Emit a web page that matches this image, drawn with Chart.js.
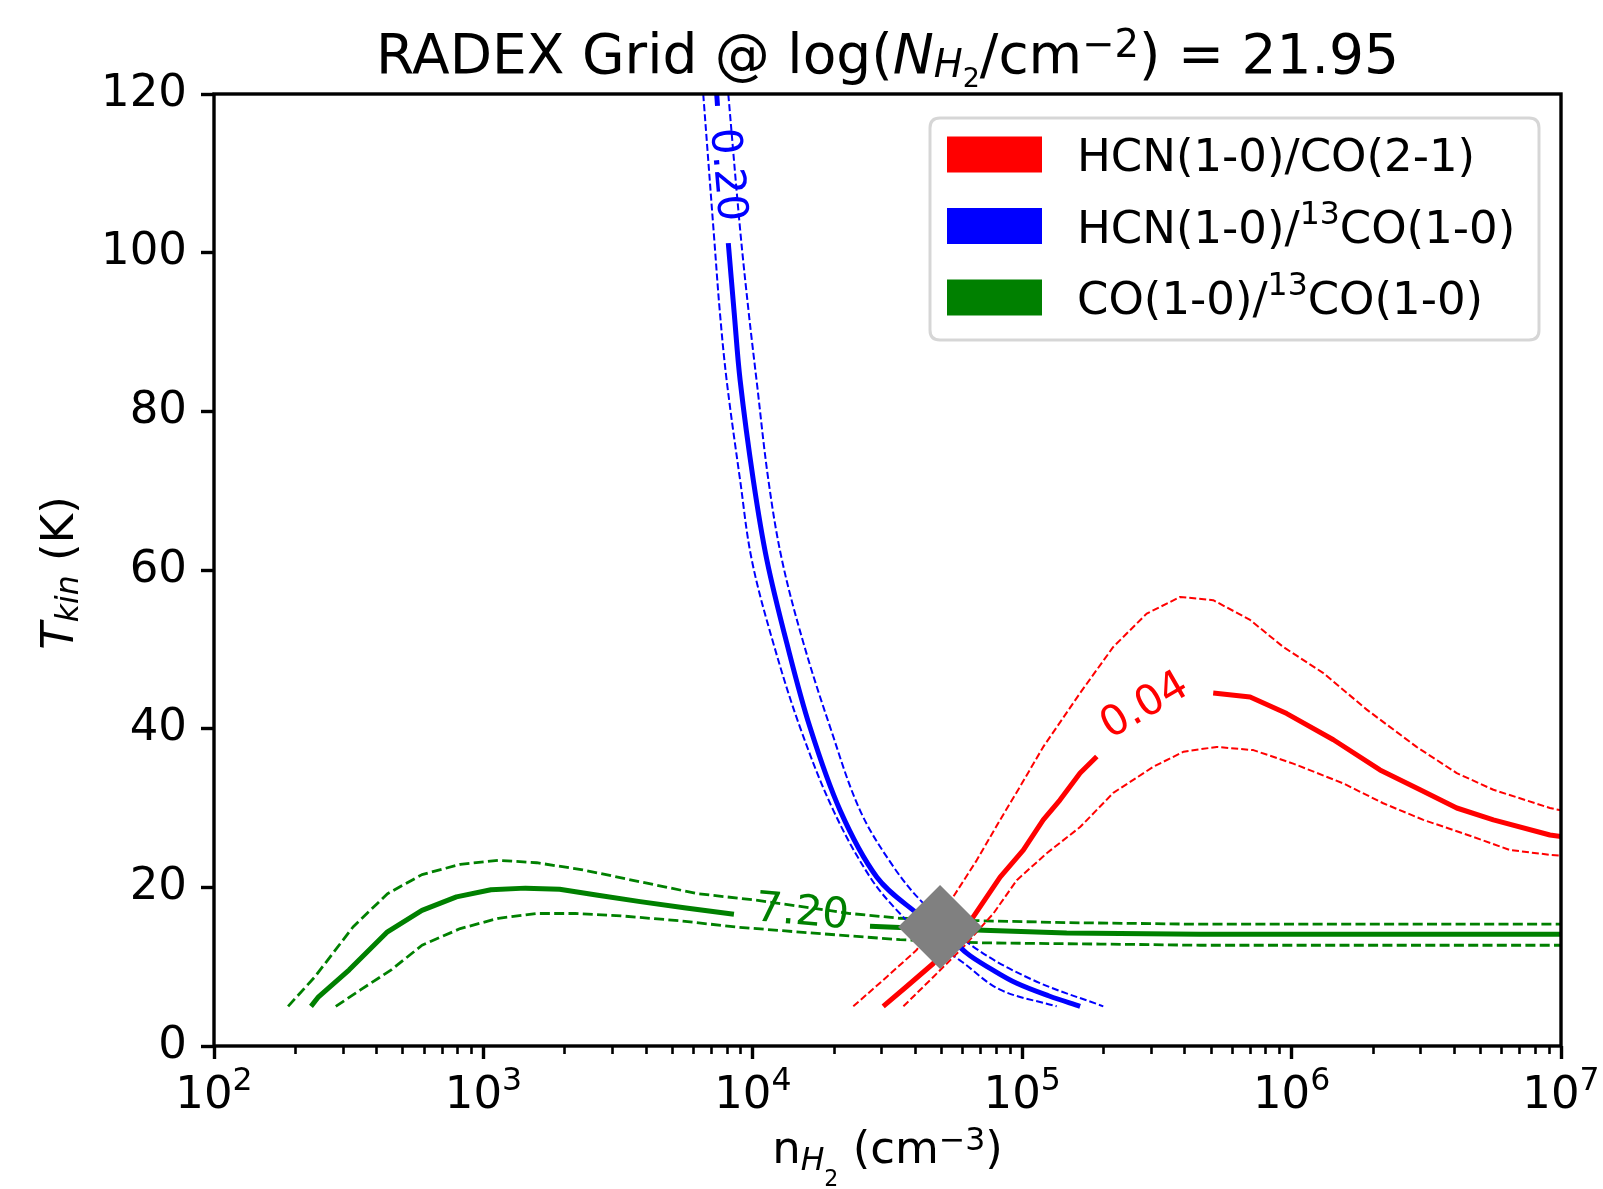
<!DOCTYPE html>
<html>
<head>
<meta charset="utf-8">
<title>RADEX Grid</title>
<script src="https://cdn.jsdelivr.net/npm/chart.js@4.4.1/dist/chart.umd.min.js"></script>
<style>
  html, body { margin: 0; padding: 0; background: #fff; }
  #graph { display: block; width: 1603px; height: 1189px; }
</style>
</head>
<body>
<canvas id="graph" width="1603" height="1189"></canvas>
<script>
// x = log10(n_H2 / cm^-3), y = T_kin (K)
// null = gap left for the contour label

// HCN(1-0)/CO(2-1) = 0.04 (solid) and its error band (dashed)
var hcnCoLogN = [4.484, 4.571, 4.670, 4.819, 4.918, 5.004, 5.078, 5.140, 5.215, 5.277, null,
                 5.709, 5.846, 5.982, 6.155, 6.328, 6.477, 6.613, 6.749, 6.959, 7.0];
var hcnCoT    = [5.0, 7.5, 10.4, 16.3, 21.3, 24.7, 28.5, 31.0, 34.4, 36.5, null,
                 44.5, 44.0, 41.9, 38.6, 34.8, 32.3, 30.0, 28.5, 26.6, 26.4];
var hcnCoHiLogN = [4.373, 4.497, 4.608, 4.744, 4.831, 4.918, 4.992, 5.078, 5.215, 5.338, 5.462,
                   5.586, 5.709, 5.846, 5.969, 6.118, 6.279, 6.464, 6.613, 6.749, 6.959, 7.0];
var hcnCoHiT    = [5.0, 8.7, 12.1, 18.8, 23.4, 28.5, 32.7, 37.7, 44.5, 50.3, 54.5,
                   56.6, 56.2, 53.7, 50.3, 47.0, 42.4, 37.7, 34.4, 32.3, 30.0, 29.7];
var hcnCoLoLogN = [4.559, 4.670, 4.782, 4.893, 4.980, 5.091, 5.215, 5.338, 5.487, 5.599,
                   5.722, 5.858, 6.006, 6.192, 6.340, 6.489, 6.637, 6.811, 6.959, 7.0];
var hcnCoLoT    = [5.0, 8.7, 12.5, 16.7, 20.9, 24.3, 27.6, 31.9, 35.2, 37.1,
                   37.7, 37.3, 35.6, 33.1, 30.6, 28.5, 26.8, 24.7, 24.1, 24.0];

// HCN(1-0)/13CO(1-0) = 0.20
var hcn13LogN = [3.866, 3.869, null, 3.909, 3.931, 3.953, 4.002, 4.052, 4.126, 4.212,
                 4.324, 4.460, 4.596, 4.695, 4.794, 4.890, 4.980, 5.100, 5.215];
var hcn13T    = [120, 118.5, null, 101.2, 92.4, 83.9, 71.3, 61.3, 50.8, 40.2,
                 29.7, 21.3, 17.1, 15.0, 11.7, 9.6, 7.9, 6.3, 5.0];
var hcn13HiLogN = [3.909, 3.953, 3.985, 4.014, 4.058, 4.108, 4.188, 4.287, 4.398, 4.522,
                   4.633, 4.819, 5.041, 5.301];
var hcn13HiT    = [120, 102.9, 92.4, 83.9, 71.3, 61.3, 50.8, 40.2, 29.7, 22.6,
                   18.0, 12.5, 8.3, 5.0];
var hcn13LoLogN = [3.816, 3.858, 3.878, 3.903, 3.953, 3.996, 4.076, 4.175, 4.299, 4.435,
                   4.546, 4.650, 4.769, 4.918, 5.128];
var hcn13LoT    = [120, 101.2, 92.4, 83.9, 71.3, 61.3, 50.8, 40.2, 29.7, 21.3,
                   16.7, 13.5, 10.8, 7.1, 5.0];

// CO(1-0)/13CO(1-0) = 7.20
var co13LogN = [2.360, 2.388, 2.502, 2.644, 2.772, 2.900, 3.028, 3.156, 3.283, 3.425, 3.582,
                3.752, 3.930, null, 4.435, 4.546, 4.695, 4.855, 5.165, 5.660, 6.300, 7.0];
var co13T    = [5.0, 6.2, 9.6, 14.4, 17.1, 18.8, 19.7, 19.9, 19.75, 19.0, 18.2,
                17.4, 16.6, null, 15.1, 14.95, 14.8, 14.6, 14.25, 14.1, 14.1, 14.1];
var co13HiLogN = [2.275, 2.374, 2.516, 2.644, 2.772, 2.914, 3.056, 3.198, 3.369, 3.582,
                  3.795, 4.008, 4.361, 4.546, 4.831, 5.165, 5.660, 7.0];
var co13HiT    = [5.0, 8.7, 15.0, 19.2, 21.6, 22.9, 23.4, 23.1, 22.2, 20.7,
                  19.2, 18.4, 16.7, 16.1, 15.8, 15.55, 15.35, 15.35];
var co13LoLogN = [2.452, 2.545, 2.658, 2.772, 2.914, 3.056, 3.198, 3.340, 3.511, 3.724,
                  3.937, 4.121, 4.546, 4.855, 5.289, 5.660, 7.0];
var co13LoT    = [5.0, 7.1, 9.6, 12.7, 14.8, 16.1, 16.7, 16.7, 16.4, 15.8,
                  15.0, 14.5, 13.4, 13.0, 12.85, 12.7, 12.7];

// best fit point
var bestLogN = [4.695];
var bestT = [15.0];

// contour labels
var levelText = ['0.04', '0.20', '7.20'];
var levelLogN = [5.456, 3.901, 4.183];
var levelT = [42.8, 109.8, 16.7];
var levelAngle = [-30, 85, 5];
var levelColor = ['#ff0000', '#0000ff', '#008000'];

// axes
var xMajor = [1e2, 1e3, 1e4, 1e5, 1e6, 1e7];
var xExp = ['2', '3', '4', '5', '6', '7'];
var yMin = 0, yMax = 120, yStep = 20;

// legend
var legendColor = ['#ff0000', '#0000ff', '#008000'];
var legendText = [
  [{t: 'HCN(1-0)/CO(2-1)'}],
  [{t: 'HCN(1-0)/'}, {t: '13', s: 0.7, dy: -0.42}, {t: 'CO(1-0)'}],
  [{t: 'CO(1-0)/'}, {t: '13', s: 0.7, dy: -0.42}, {t: 'CO(1-0)'}]
];

var FONT = '"DejaVu Sans"';
var FS = 45;

function toPoints(logs, temps) {
  var out = [];
  for (var i = 0; i < logs.length; i++) {
    if (logs[i] === null) out.push({x: null, y: null});
    else out.push({x: Math.pow(10, logs[i]), y: temps[i]});
  }
  return out;
}

function fontOf(size, italic) {
  return (italic ? 'italic ' : '') + size.toFixed(1) + 'px ' + FONT;
}

// text with sub/superscripts: parts = [{t, it, s, dy}]
function richWidth(ctx, parts, size) {
  var w = 0;
  for (var i = 0; i < parts.length; i++) {
    ctx.font = fontOf(size * (parts[i].s || 1), parts[i].it);
    w += ctx.measureText(parts[i].t).width;
  }
  return w;
}
function drawRich(ctx, parts, x, y, size, align) {
  var cx = align === 'center' ? x - richWidth(ctx, parts, size) / 2 : x;
  ctx.textAlign = 'left';
  ctx.textBaseline = 'alphabetic';
  for (var i = 0; i < parts.length; i++) {
    var p = parts[i];
    ctx.font = fontOf(size * (p.s || 1), p.it);
    ctx.fillText(p.t, cx, y + (p.dy || 0) * size);
    cx += ctx.measureText(p.t).width;
  }
}

function roundRect(ctx, x, y, w, h, r) {
  ctx.beginPath();
  ctx.moveTo(x + r, y);
  ctx.lineTo(x + w - r, y);
  ctx.quadraticCurveTo(x + w, y, x + w, y + r);
  ctx.lineTo(x + w, y + h - r);
  ctx.quadraticCurveTo(x + w, y + h, x + w - r, y + h);
  ctx.lineTo(x + r, y + h);
  ctx.quadraticCurveTo(x, y + h, x, y + h - r);
  ctx.lineTo(x, y + r);
  ctx.quadraticCurveTo(x, y, x + r, y);
  ctx.closePath();
}

// contour labels along the lines
var levelLabels = {
  id: 'levelLabels',
  afterDatasetsDraw: function(chart) {
    var ctx = chart.ctx;
    var xs = chart.scales.x, ys = chart.scales.y;
    ctx.save();
    ctx.font = '42px ' + FONT;
    ctx.textAlign = 'center';
    ctx.textBaseline = 'middle';
    for (var i = 0; i < levelText.length; i++) {
      ctx.save();
      ctx.translate(xs.getPixelForValue(Math.pow(10, levelLogN[i])), ys.getPixelForValue(levelT[i]));
      ctx.rotate(levelAngle[i] * Math.PI / 180);
      ctx.fillStyle = levelColor[i];
      ctx.fillText(levelText[i], 0, 0);
      ctx.restore();
    }
    ctx.restore();
  }
};

// frame, minor ticks, tick labels, titles, legend
var decorations = {
  id: 'decorations',
  afterDraw: function(chart) {
    var ctx = chart.ctx;
    var a = chart.chartArea;
    var xs = chart.scales.x;
    ctx.save();

    // minor ticks on the log axis
    ctx.strokeStyle = '#000';
    ctx.lineWidth = 2.6;
    for (var e = 2; e < 7; e++) {
      for (var k = 2; k <= 9; k++) {
        var px = Math.round(xs.getPixelForValue(k * Math.pow(10, e))) + 0.5;
        ctx.beginPath();
        ctx.moveTo(px, a.bottom);
        ctx.lineTo(px, a.bottom + 8);
        ctx.stroke();
      }
    }

    // frame
    ctx.lineWidth = 3.4;
    ctx.strokeRect(a.left, a.top, a.right - a.left, a.bottom - a.top);

    ctx.fillStyle = '#000';
    // x tick labels 10^n
    for (var i = 0; i < xMajor.length; i++) {
      drawRich(ctx, [{t: '10'}, {t: xExp[i], s: 0.7, dy: -0.41}],
        xs.getPixelForValue(xMajor[i]), a.bottom + 62, FS, 'center');
    }

    var cx = (a.left + a.right) / 2;
    // x axis title
    drawRich(ctx, [{t: 'n'}, {t: 'H', it: true, s: 0.7, dy: 0.16}, {t: '2', s: 0.49, dy: 0.5},
      {t: ' (cm'}, {t: '\u22123', s: 0.7, dy: -0.3}, {t: ')'}], cx, a.bottom + 117, FS, 'center');

    // y axis title
    ctx.save();
    ctx.translate(73, (a.top + a.bottom) / 2 + 3);
    ctx.rotate(-Math.PI / 2);
    drawRich(ctx, [{t: 'T', it: true}, {t: 'kin', it: true, s: 0.7, dy: 0.1}, {t: ' (K)'}], 0, 0, FS, 'center');
    ctx.restore();

    // title
    drawRich(ctx, [{t: 'RADEX Grid @ log('}, {t: 'N', it: true}, {t: 'H', it: true, s: 0.7, dy: 0.08},
      {t: '2', s: 0.49, dy: 0.26}, {t: '/cm'}, {t: '\u22122', s: 0.7, dy: -0.3}, {t: ') = 21.95'}],
      cx, a.top - 21, 55, 'center');

    // legend
    var bw = 609, bh = 222;
    var bx = a.right - 22 - bw, by = a.top + 24;
    roundRect(ctx, bx, by, bw, bh, 10);
    ctx.fillStyle = 'rgba(255,255,255,0.8)';
    ctx.fill();
    ctx.lineWidth = 3;
    ctx.strokeStyle = 'rgba(204,204,204,0.8)';
    ctx.stroke();
    for (var r = 0; r < legendText.length; r++) {
      ctx.fillStyle = legendColor[r];
      ctx.fillRect(bx + 17, by + 18.5 + 71.5 * r, 95, 36);
      ctx.fillStyle = '#000';
      drawRich(ctx, legendText[r], bx + 147, by + 53 + 71.5 * r, FS, 'left');
    }
    ctx.restore();
  }
};

function solid(data, color) {
  return {data: data, showLine: true, borderColor: color, backgroundColor: color,
    borderWidth: 5, pointRadius: 0, borderCapStyle: 'butt', borderJoinStyle: 'round', order: 1};
}
function dashed(data, color, w, dash) {
  return {data: data, showLine: true, borderColor: color, backgroundColor: color,
    borderWidth: w, borderDash: dash, pointRadius: 0, borderJoinStyle: 'round', order: 2};
}

document.addEventListener('DOMContentLoaded', function() {
  var ctx = document.querySelector('#graph').getContext('2d');

  // the HCN/13CO contour is smooth, the others keep their grid corners
  var blue = solid(toPoints(hcn13LogN, hcn13T), '#0000ff');
  var blueHi = dashed(toPoints(hcn13HiLogN, hcn13HiT), '#0000ff', 2, [7, 3]);
  var blueLo = dashed(toPoints(hcn13LoLogN, hcn13LoT), '#0000ff', 2, [7, 3]);
  blue.tension = blueHi.tension = blueLo.tension = 0.35;

  var datasets = [
    {data: toPoints(bestLogN, bestT), pointStyle: 'rectRot', pointRadius: 42,
      backgroundColor: '#808080', borderWidth: 0, order: 0},
    solid(toPoints(hcnCoLogN, hcnCoT), '#ff0000'),
    dashed(toPoints(hcnCoHiLogN, hcnCoHiT), '#ff0000', 2, [7, 3]),
    dashed(toPoints(hcnCoLoLogN, hcnCoLoT), '#ff0000', 2, [7, 3]),
    blue, blueHi, blueLo,
    solid(toPoints(co13LogN, co13T), '#008000'),
    dashed(toPoints(co13HiLogN, co13HiT), '#008000', 2.8, [10, 4.3]),
    dashed(toPoints(co13LoLogN, co13LoT), '#008000', 2.8, [10, 4.3])
  ];

  var chart = new Chart(ctx, {
    type: 'scatter',
    data: {datasets: datasets},
    options: {
      responsive: false,
      animation: false,
      devicePixelRatio: 1,
      layout: {padding: {top: 94, right: 42, left: 0, bottom: 0}},
      plugins: {legend: {display: false}, tooltip: {enabled: false}},
      scales: {
        x: {
          type: 'logarithmic',
          min: xMajor[0],
          max: xMajor[xMajor.length - 1],
          afterBuildTicks: function(scale) {
            scale.ticks = xMajor.map(function(v) { return {value: v, major: true}; });
          },
          ticks: {display: false},
          grid: {drawOnChartArea: false, tickLength: 13, tickWidth: 3.4, tickColor: '#000'},
          border: {display: false},
          afterFit: function(scale) { scale.height = 143; }
        },
        y: {
          min: yMin,
          max: yMax,
          ticks: {stepSize: yStep, color: '#000', padding: 14, font: {family: 'DejaVu Sans', size: FS}},
          grid: {drawOnChartArea: false, tickLength: 13, tickWidth: 3.4, tickColor: '#000'},
          border: {display: false},
          afterFit: function(scale) { scale.width = 214; }
        }
      }
    },
    plugins: [levelLabels, decorations]
  });
});
</script>
</body>
</html>
